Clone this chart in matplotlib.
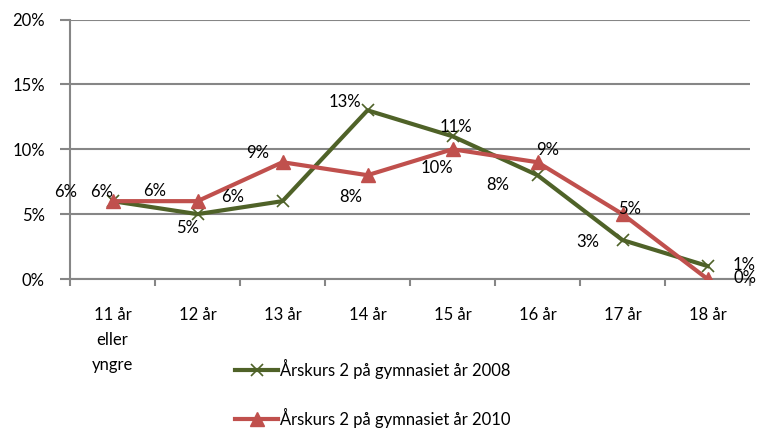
import matplotlib
matplotlib.use("Agg")
import matplotlib.pyplot as plt
import numpy as np

plt.rcParams['font.family'] = ['Lato', 'DejaVu Sans']

categories = ["11 år\neller\nyngre", "12 år", "13 år", "14 år", "15 år", "16 år", "17 år", "18 år"]
values_2008 = [6, 5, 6, 13, 11, 8, 3, 1]
values_2010 = [6, 6, 9, 8, 10, 9, 5, 0]
label_2008 = "Årskurs 2 på gymnasiet år 2008"
label_2010 = "Årskurs 2 på gymnasiet år 2010"

# data label offsets (pixels, right/up) as placed in the original
offsets_2008 = [(-47, 9), (-10, -14), (-50, 4), (-23, 8), (3, 9), (-40, -10), (-35, -2), (37, 1)]
offsets_2010 = [(-11, 9), (-43, 10), (-25, 9), (-17, -22), (-16, -19), (10, 12), (7, 5), (37, 1)]

green = "#4F6228"
red = "#C0504D"
grey = "#868686"

fig = plt.figure(figsize=(7.59, 4.29), dpi=100)
ax = fig.add_axes([70 / 759, 150 / 429, 680 / 759, 259.5 / 429])

x = np.arange(len(categories))
l1, = ax.plot(x, values_2008, color=green, lw=3, marker="x", markersize=8,
              markeredgewidth=1.2, label=label_2008, zorder=3)
l2, = ax.plot(x, values_2010, color=red, lw=3, marker="^", markersize=10,
              label=label_2010, zorder=4)

px = 0.72
for xi, v, (dx, dy) in zip(x, values_2008, offsets_2008):
    ax.annotate(f"{v}%", (xi, v), xytext=(dx * px, dy * px), textcoords="offset points",
                ha="center", va="center", fontsize=12, zorder=5)
for xi, v, (dx, dy) in zip(x, values_2010, offsets_2010):
    ax.annotate(f"{v}%", (xi, v), xytext=(dx * px, dy * px), textcoords="offset points",
                ha="center", va="center", fontsize=12, zorder=5)

ax.set_xlim(-0.5, len(categories) - 0.5)
ax.set_ylim(0, 20)
ax.set_yticks([0, 5, 10, 15, 20])
ax.set_yticklabels([f"{t}%" for t in [0, 5, 10, 15, 20]], fontsize=12)
ax.yaxis.grid(True, color=grey, lw=1.5)
ax.set_axisbelow(True)

ax.set_xticks(x)
ax.set_xticklabels(categories, fontsize=12, linespacing=1.7, va="top")
ax.set_xticks(np.arange(-0.5, len(categories)), minor=True)
ax.tick_params(axis="x", which="major", length=0, pad=20)
ax.tick_params(axis="x", which="minor", length=5, width=1.5, color=grey)
ax.tick_params(axis="y", length=7, width=1.5, color=grey, pad=11)

for s in ["top", "right"]:
    ax.spines[s].set_visible(False)
for s in ["left", "bottom"]:
    ax.spines[s].set_color(grey)
    ax.spines[s].set_linewidth(1.5)

fig.legend(handles=[l1, l2], loc="upper left", bbox_to_anchor=(235 / 759, 1 - 359 / 429),
           frameon=False, fontsize=12, handlelength=2.6, handletextpad=0.1,
           labelspacing=1.75, borderpad=0, borderaxespad=0)

fig.savefig("out.png", dpi=100)
